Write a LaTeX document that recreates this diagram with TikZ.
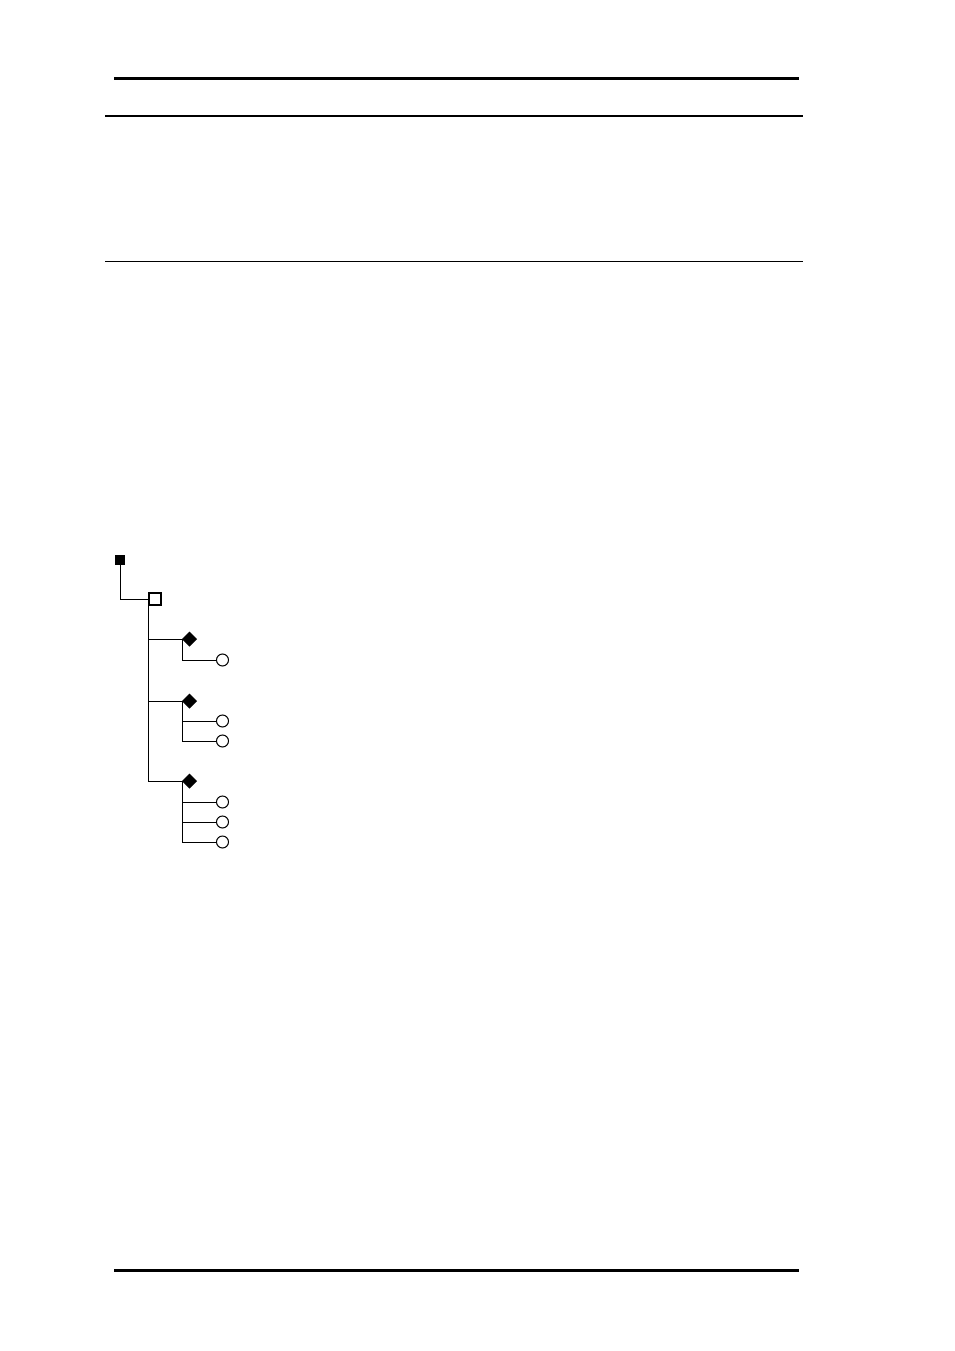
\documentclass[tikz,border=0pt]{standalone}
\usetikzlibrary{shapes.geometric}
\begin{document}
\begin{tikzpicture}[x=1pt, y=-1pt, line width=1pt,
		raiz/.style={rectangle, draw, fill=black, minimum size=9pt, inner sep=0pt},
		grupo/.style={rectangle, draw, line width=1.6pt, fill=white, minimum size=12pt, inner sep=0pt},
		rama/.style={diamond, draw, fill=black, minimum size=14pt, inner sep=0pt},
		hoja/.style={circle, draw, fill=white, minimum size=12pt, inner sep=0pt}]
	\useasboundingbox (0,0) rectangle (954,1351);
	% reglas de la pagina
	\draw[line width=3pt] (114,79) -- (799,79);
	\draw[line width=2pt] (105,116) -- (803,116);
	\draw[line width=0.8pt] (105,261) -- (803,261);
	\draw[line width=3pt] (114,1270) -- (799,1270);
	% arbol
	\node[raiz]  (r)   at (120,559.5) {};
	\node[grupo] (g)   at (155,599) {};
	\node[rama]  (d1)  at (189.5,639) {};
	\node[rama]  (d2)  at (189.5,701) {};
	\node[rama]  (d3)  at (189.5,781) {};
	\node[hoja]  (h11) at (222.5,660) {};
	\node[hoja]  (h21) at (222.5,721) {};
	\node[hoja]  (h22) at (222.5,741) {};
	\node[hoja]  (h31) at (222.5,802) {};
	\node[hoja]  (h32) at (222.5,822) {};
	\node[hoja]  (h33) at (222.5,842) {};
	\draw (r.south) |- (g.west);
	\draw (g.west) |- (d1.west);
	\draw (g.west) |- (d2.west);
	\draw (g.west) |- (d3.west);
	\draw (d1.west) |- (h11.west);
	\draw (d2.west) |- (h21.west);
	\draw (d2.west) |- (h22.west);
	\draw (d3.west) |- (h31.west);
	\draw (d3.west) |- (h32.west);
	\draw (d3.west) |- (h33.west);
\end{tikzpicture}
\end{document}
